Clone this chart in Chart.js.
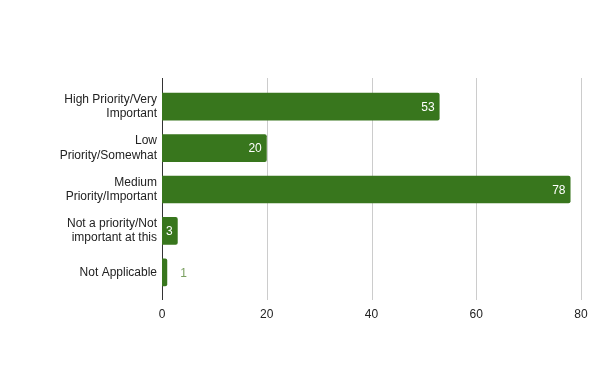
<!DOCTYPE html>
<html>
<head>
<meta charset="utf-8">
<script src="https://cdn.jsdelivr.net/npm/chart.js@4/dist/chart.umd.min.js"></script>
<style>
  html, body { margin: 0; padding: 0; background: #fff; }
  #wrap { width: 600px; height: 371px; position: relative; }
</style>
</head>
<body>
<div id="wrap"><canvas id="grafico"></canvas></div>
<script>
const categorias = [
  ['High Priority/Very', 'Important'],
  ['Low', 'Priority/Somewhat'],
  ['Medium', 'Priority/Important'],
  ['Not a priority/Not', 'important at this'],
  'Not Applicable'
];
const valores = [53, 20, 78, 3, 1];
const ticksX = [0, 20, 40, 60, 80];

const verde = '#38761d';
const fonte = '"Liberation Sans", Arial, sans-serif';

// grade e eixo um pouco mais altos que a área das barras
const grade = {
  id: 'grade',
  beforeDatasetsDraw(chart) {
    const ctx = chart.ctx;
    const area = chart.chartArea;
    const x = chart.scales.x;
    const topo = area.top - 8, base = area.bottom + 7;
    ctx.save();
    ctx.lineWidth = 1;
    ticksX.forEach(v => {
      if (v === 0) return;
      const px = Math.round(x.getPixelForValue(v)) + 0.5;
      ctx.strokeStyle = '#cccccc';
      ctx.beginPath();
      ctx.moveTo(px, topo);
      ctx.lineTo(px, base);
      ctx.stroke();
    });
    const px0 = Math.round(x.getPixelForValue(0)) + 0.5;
    ctx.strokeStyle = '#333333';
    ctx.beginPath();
    ctx.moveTo(px0, topo);
    ctx.lineTo(px0, base);
    ctx.stroke();
    ctx.restore();
  }
};

// rótulos de valor no fim de cada barra
const rotulos = {
  id: 'rotulos',
  afterDatasetsDraw(chart) {
    const ctx = chart.ctx;
    const meta = chart.getDatasetMeta(0);
    ctx.save();
    ctx.font = '12px ' + fonte;
    ctx.textBaseline = 'middle';
    meta.data.forEach((bar, i) => {
      const txt = String(valores[i]);
      const w = ctx.measureText(txt).width;
      const largura = bar.x - bar.base;
      if (largura > w + 6) {
        ctx.fillStyle = '#ffffff';
        ctx.textAlign = 'right';
        ctx.fillText(txt, bar.x - 5, bar.y + 1);
      } else {
        ctx.fillStyle = '#7a9f60';
        ctx.textAlign = 'left';
        ctx.fillText(txt, bar.x + 13, bar.y + 1);
      }
    });
    ctx.restore();
  }
};

new Chart(document.getElementById('grafico'), {
  type: 'bar',
  data: {
    labels: categorias,
    datasets: [{
      data: valores,
      backgroundColor: verde,
      borderRadius: { topRight: 2, bottomRight: 2 },
      borderSkipped: false,
      categoryPercentage: 1,
      barPercentage: 0.67
    }]
  },
  options: {
    indexAxis: 'y',
    responsive: true,
    maintainAspectRatio: false,
    animation: false,
    layout: { padding: { top: 86, right: 19, bottom: 0, left: 0 } },
    plugins: {
      legend: { display: false },
      tooltip: { enabled: false },
      title: { display: false }
    },
    scales: {
      x: {
        min: 0,
        max: 80,
        afterBuildTicks: (axis) => { axis.ticks = ticksX.map(v => ({ value: v })); },
        afterFit: (axis) => {
          axis.height = 78;
          axis.paddingLeft = 0;
          axis.paddingRight = 0;
        },
        grid: { display: false, drawTicks: false },
        border: { display: false },
        ticks: {
          color: '#222',
          padding: 14,
          font: { family: fonte, size: 12 }
        }
      },
      y: {
        afterFit: (axis) => { axis.width = 162; },
        grid: { display: false, drawTicks: false },
        border: { display: false },
        ticks: {
          color: '#222',
          padding: 5,
          font: { family: fonte, size: 12 }
        }
      }
    }
  },
  plugins: [grade, rotulos]
});
</script>
</body>
</html>
